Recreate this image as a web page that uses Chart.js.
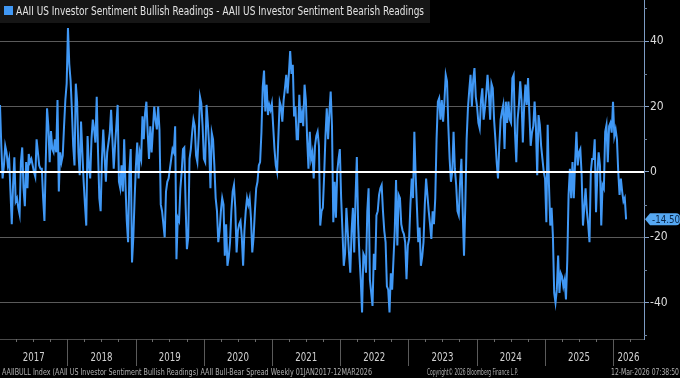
<!DOCTYPE html>
<html>
<head>
<meta charset="utf-8">
<title>AAII Bull-Bear Spread</title>
<script src="https://cdn.jsdelivr.net/npm/chart.js@4.4.1/dist/chart.umd.min.js"></script>
<style>
  html, body { margin: 0; padding: 0; background: #000; }
  #wrap { width: 680px; height: 378px; }
</style>
</head>
<body>
<div id="wrap"><canvas id="chart" width="680" height="378"></canvas></div>
<script>
// AAII bull minus bear spread, one reading a week, first one on 05-Jan-2017
const startDate = Date.UTC(2017, 0, 5);

const spread2017 = [20.5, 8, -2, 2, 8, 6, 2, 4, -6, -16, -4, 4.5, -9, -8, -11, -13, 3, 7.5, -5, -10.5,
  3, -5, 5.5, 3, 4, 2, 0, -1.5, 10, 6, 2, 1, 1, -8, -15, 3, 19.5, 14, 3, 12.5,
  7, 6, 10, 6, 22, -6, 6, 3, 5, 14, 22, 27];
const spread2018 = [44, 33, 28, 19, 8, 2, 27, 21.5, 6, -1, 15.4, 6, -3, -10, -16.4, 11, 2, -2, 10, 16,
  13, 9, 23, 6, -8, -12, 4, 13, 5, -3, 6, 9, 12, 19, 10, 1, 8, 14, 20.5, -3,
  -5, 2, -6, 10, -4, -15, -21.5, 0, 7, -27.7, -20, -8];
const spread2019 = [2, 9, -2, 6, 4, 17, 10, 18, 21.5, 12, 4, 14, 6, 13, 20, 16, 13, 20, 13, -10,
  -12, -16, -20, -6, -3, -2, 1, 4, 7, 6, 14, -26.7, -14, -15, -5, 0, 7, 7.5, -10, -23.6,
  -20, 4, 7, 12, 16, 14, 5, 3, 11, 23, 21, 14];
const spread2020 = [4, 3, 20.5, 15, 8, -5, 12, 10, 2, -8, -12, -21.5, -18, -12, -8, -10, -25.6, -16, -28.7, -26,
  -21.5, -12, -6, -4, -11, -24.6, -18, -16, -15, -20, -28.7, -18, -12, -8, -10, -8, -14, -24.6, -20, -12,
  -5, -3, 2, 3, 12, 26, 31, 18.5, 26.7, 17.4, 20.5, 19, 21];
const spread2021 = [14, 7, 2, 0, 11, 21.5, 20, 15.4, 22, 25.6, 29.7, 24, 30, 37, 30, 32.8, 17, 20, 10, 10,
  23.6, 15, 18, 14, 26.7, 22, 10, 1, 12.3, 4, 6, -2, 8, 11, 12.3, 8, -16.4, -12, -11, -1,
  11, 19.5, 10, 18, 24.6, 14, -15.4, -3, -14, 0, 4, 7];
const spread2022 = [-8, -18, -28.7, -25, -11, -18, -25, -30.8, -18, -11, -24.6, -8, 4.6, -16, -25.6, -33, -43, -25, -26, -30.8,
  -12, -5, -33, -37, -41, -25, -30, -13.3, -12, -7, -5, -4, -12, -18, -21.5, -35, -36, -43, -31, -36,
  -27, -18, -2.5, -22.5, -7, -8, -16, -18, -19, -21.5, -32.8, -22.5];
const spread2023 = [-20.5, -10, -2, -8, 12.3, -1, -11, -21.5, -17, -28.7, -26, -21.5, -10, -2, -7, -12, -16, -20.5, -12, -16,
  -8, 10, 21.5, 22.6, 16, 22, 15.4, 21.5, 29.7, 27.7, 14, 4, -3, 0, 12.3, 1, -4, -12, -13.3, -3,
  4, -12, -25.6, -10, 10, 19.5, 25, 29.7, 20, 28, 31.8, 23];
const spread2024 = [20, 15, 13.3, 22, 25.6, 16, 19.5, 24, 29.7, 24, 16, 27, 25.6, 16, 10, 3, -2, 8, 16, 18.5,
  20.5, 7, 21.5, 15, 21.5, 16, 15, 28.7, 29.7, 12, 3, 16, 20.5, 27.7, 22, 9, 20, 26.7, 20.5, 28.7,
  18, 8, 12, 14, 21.5, 14, -1, 17.4, 14.4, 8, 4, 0];
const spread2025 = [-2, -15.4, 14.4, -4, -16.4, -11, -19.5, -37, -40, -36, -25.6, -37, -31, -32, -35, -33, -39, -27, -7, 1,
  -8, 3, -8, 3, 12.3, 2, 6, 7, -1, -16.4, -11, -5, -12, -16, -21.5, 0, 4, 4, 10, -12.3,
  -1, 6, 2, -16.4, -4, -5, 12.3, 14.4, 3, 14, 15, 12];
const spread2026 = [21.5, 11, 13, 10, 0, -7, -2, -6, -9, -8, -14.5];

const spread = [].concat(spread2017, spread2018, spread2019, spread2020, spread2021,
  spread2022, spread2023, spread2024, spread2025, spread2026);

const yearLabels = ['2017', '2018', '2019', '2020', '2021', '2022', '2023', '2024', '2025', '2026'];
const yTickValues = [-40, -20, 0, 20, 40];
const yMinorValues = [-50, -30, -10, 10, 30, 50];

const legendText = 'AAII US Investor Sentiment Bullish Readings - AAII US Investor Sentiment Bearish Readings';
const footerLeft = 'AAIIBULL Index (AAII US Investor Sentiment Bullish Readings) AAII Bull-Bear Spread Weekly 01JAN2017-12MAR2026';
const footerMid = 'Copyright\u00A9 2026 Bloomberg Finance L.P.';
const footerRight = '12-Mar-2026 07:38:50';

const FONT = "'Liberation Sans Narrow', 'DejaVu Sans Condensed', 'Liberation Sans', Arial, sans-serif";
const LINE_BLUE = '#4098f5';
const WEEK = 7 * 864e5;
const weekOf = (y, m, d) => (Date.UTC(y, m, d) - startDate) / WEEK;

Chart.defaults.font.family = FONT;

// everything Bloomberg draws around the plot: legend box, zero line, x axis, value tag
const bloombergDecor = {
  id: 'bloombergDecor',
  afterDatasetsDraw(chart) {
    const { ctx, chartArea, scales } = chart;
    const y0 = Math.round(scales.y.getPixelForValue(0));
    ctx.save();
    ctx.strokeStyle = '#ffffff';
    ctx.lineWidth = 2;
    ctx.beginPath();
    ctx.moveTo(chartArea.left, y0);
    ctx.lineTo(chartArea.right, y0);
    ctx.stroke();
    ctx.restore();
  },
  afterDraw(chart) {
    const { ctx, chartArea, scales } = chart;
    const xs = scales.x, ys = scales.y;
    const right = chartArea.right, bottom = chartArea.bottom;
    ctx.save();

    // minor ticks on the right axis
    ctx.strokeStyle = '#6b7f99';
    ctx.lineWidth = 1;
    yMinorValues.forEach(v => {
      const py = Math.round(ys.getPixelForValue(v)) + 0.5;
      ctx.beginPath();
      ctx.moveTo(right, py);
      ctx.lineTo(right + 3, py);
      ctx.stroke();
    });

    // x axis line, quarter ticks, year separators and labels
    ctx.strokeStyle = '#4a4a4a';
    ctx.beginPath();
    ctx.moveTo(chartArea.left, bottom + 0.5);
    ctx.lineTo(right, bottom + 0.5);
    ctx.stroke();

    ctx.strokeStyle = '#6a6a6a';
    yearLabels.forEach(yr => {
      [3, 6, 9].forEach(m => {
        const w = weekOf(+yr, m, 1);
        if (w < xs.min || w > xs.max) return;
        const px = Math.round(xs.getPixelForValue(w)) + 0.5;
        ctx.beginPath();
        ctx.moveTo(px, bottom);
        ctx.lineTo(px, bottom + 3);
        ctx.stroke();
      });
    });

    const bounds = yearLabels.map(yr => Math.max(chartArea.left, xs.getPixelForValue(weekOf(+yr, 0, 1))));
    bounds.push(right);
    ctx.strokeStyle = '#5a5a5a';
    for (let i = 1; i < yearLabels.length; i++) {
      const px = Math.round(bounds[i]) + 0.5;
      ctx.beginPath();
      ctx.moveTo(px, bottom);
      ctx.lineTo(px, bottom + 27);
      ctx.stroke();
    }
    ctx.fillStyle = '#d2d2d2';
    ctx.font = '13px ' + FONT;
    ctx.textAlign = 'center';
    ctx.textBaseline = 'middle';
    yearLabels.forEach((yr, i) => {
      ctx.fillText(yr, (bounds[i] + bounds[i + 1]) / 2, 358, 22);
    });

    // footer
    ctx.fillStyle = '#b0b0b0';
    ctx.font = '8px ' + FONT;
    ctx.textAlign = 'left';
    ctx.fillText(footerLeft, 2, 372.5, 370);
    ctx.fillText(footerMid, 427, 372.5, 91);
    ctx.fillText(footerRight, 611, 372.5, 68);

    // legend box
    ctx.fillStyle = '#161616';
    ctx.fillRect(0, 0, 430, 23);
    ctx.fillStyle = LINE_BLUE;
    ctx.fillRect(4, 6, 9, 9);
    ctx.fillStyle = '#e2e2e2';
    ctx.font = '12px ' + FONT;
    ctx.textBaseline = 'middle';
    ctx.fillText(legendText, 16, 11.5, 408);

    // last value tag
    const last = spread[spread.length - 1];
    const ty = ys.getPixelForValue(last);
    ctx.fillStyle = '#56a8f2';
    ctx.beginPath();
    ctx.moveTo(right + 1, ty);
    ctx.lineTo(right + 6, ty - 6);
    ctx.lineTo(676, ty - 6);
    ctx.quadraticCurveTo(680, ty - 6, 680, ty - 2);
    ctx.lineTo(680, ty + 2);
    ctx.quadraticCurveTo(680, ty + 6, 676, ty + 6);
    ctx.lineTo(right + 6, ty + 6);
    ctx.closePath();
    ctx.fill();
    ctx.fillStyle = '#0a2648';
    ctx.font = '11px ' + FONT;
    ctx.textAlign = 'left';
    ctx.fillText(last.toFixed(2), right + 8, ty + 0.5, 28);

    ctx.restore();
  }
};

new Chart(document.getElementById('chart'), {
  type: 'line',
  data: {
    datasets: [{
      label: legendText,
      data: spread.map((v, i) => ({ x: i, y: v })),
      borderColor: LINE_BLUE,
      borderWidth: 2,
      pointRadius: 0,
      tension: 0,
      fill: false
    }]
  },
  options: {
    responsive: false,
    animation: false,
    layout: { padding: { top: 0, left: 0, right: 0, bottom: 39 } },
    plugins: {
      legend: { display: false },
      tooltip: { enabled: false }
    },
    scales: {
      x: {
        type: 'linear',
        display: false,
        min: 0,
        max: 492.7
      },
      y: {
        position: 'right',
        min: -51.1,
        max: 52.6,
        afterBuildTicks: s => { s.ticks = yTickValues.map(v => ({ value: v })); },
        afterFit: s => { s.width = 36; s.paddingTop = 0; s.paddingBottom = 0; },
        grid: {
          color: c => (c.tick && c.tick.value === 0) ? 'rgba(0,0,0,0)' : '#5a5a5a',
          lineWidth: 1,
          drawTicks: true,
          tickLength: 5,
          tickColor: '#8aa4c8'
        },
        border: { color: '#7d9cc4', width: 1 },
        ticks: {
          color: '#dcdcdc',
          font: { size: 12 },
          padding: 1
        }
      }
    }
  },
  plugins: [bloombergDecor]
});
</script>
</body>
</html>
